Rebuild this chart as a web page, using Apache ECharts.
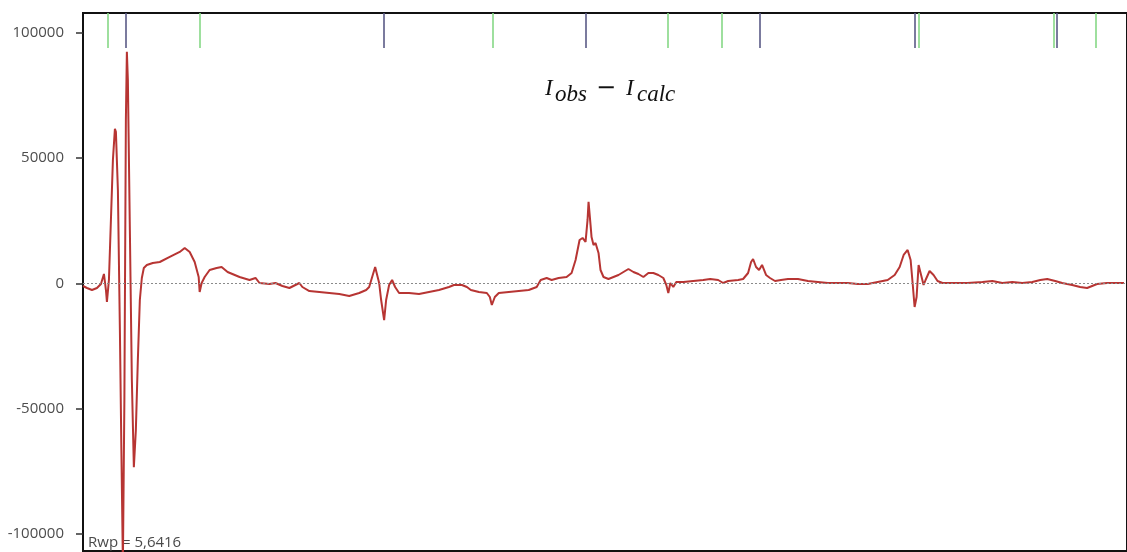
<!DOCTYPE html>
<html>
<head>
<meta charset="utf-8">
<script src="https://cdn.jsdelivr.net/npm/echarts@6/dist/echarts.min.js"></script>
<style>
  html, body { margin: 0; padding: 0; background: #fff; }
  #chart { width: 1127px; height: 552px; }
</style>
</head>
<body>
<div id="chart"></div>
<script>
// Difference curve: position along the pattern and residual counts (Iobs - Icalc)
const positions = [
  0, 4, 9, 14, 18, 21, 23, 24, 26, 28, 30, 32, 33, 35, 37, 38.5, 40, 41.5, 43, 44,
  45, 47, 49, 51, 53, 55, 57, 59, 61, 64, 70, 77, 87, 97, 102, 107, 112, 116, 117, 119,
  122, 127, 134, 139, 145, 157, 167, 173, 177, 187, 193, 200, 207, 217, 220, 227, 237, 247, 257, 267,
  277, 284, 287, 290, 293, 295, 297, 299, 302, 304, 307, 310, 313, 317, 327, 337, 347, 357, 367, 372,
  380, 385, 389, 397, 405, 408, 410, 413, 417, 427, 437, 447, 455, 459, 465, 470, 477, 485, 490, 494,
  498, 501, 504, 506, 507, 509, 510, 512, 514, 517, 519, 522, 527, 532, 537, 542, 547, 552, 557, 562,
  567, 572, 577, 582, 585, 587, 589, 592, 595, 602, 612, 622, 629, 637, 642, 647, 657, 662, 667, 670,
  672, 675, 678, 681, 685, 689, 694, 700, 707, 717, 727, 737, 747, 757, 767, 777, 787, 797, 807, 814,
  819, 823, 827, 830, 832, 834, 836, 838, 841, 843, 845, 849, 853, 857, 862, 872, 887, 902, 912, 922,
  932, 942, 952, 960, 967, 975, 982, 992, 1000, 1007, 1012, 1017, 1027, 1037, 1044
];
const diffCounts = [
  -1100, -1900, -2700, -1900, -300, 3700, -2700, -7500, 1300, 25300, 49300, 61700, 60500, 37300, -18700, -66700, -112000, -46700, 65300, 92500,
  81300, 21300, -38700, -73500, -58700, -30700, -6700, 2100, 6100, 7300, 8100, 8500, 10500, 12500, 14100, 12500, 8500, 2500, -3500, 100,
  2500, 5300, 6100, 6500, 4500, 2500, 1300, 2100, 100, -300, 100, -1100, -1900, 100, -1500, -3100, -3500, -3900, -4300, -5100,
  -3900, -2700, -1500, 2500, 6500, 6100, 100, -6700, -14700, -6700, -700, 1300, -1500, -3900, -3900, -4300, -3500, -2700, -1500, -700,
  -700, -1500, -2700, -3500, -3900, -5500, -8700, -5500, -3900, -3500, -3100, -2700, -1500, 1300, 2100, 1300, 2100, 2500, 4100, 9300,
  17300, 18100, 16500, 25300, 32500, 23300, 18500, 15300, 16100, 12100, 5300, 2500, 1700, 2500, 3300, 4500, 5700, 4500, 3700, 2500,
  4100, 4100, 3300, 2100, -700, -3900, 100, -1500, 500, 500, 900, 1300, 1700, 1300, 100, 900, 1300, 1700, 4100, 8500,
  9700, 6500, 5300, 7300, 3300, 2100, 900, 1300, 1700, 1700, 900, 500, 100, 100, 100, -300, -300, 500, 1300, 3300,
  6500, 11300, 13300, 9300, 100, -9500, -5500, 7300, 2500, -700, 1300, 4900, 3300, 900, 100, 100, 100, 500, 900, 100,
  500, 100, 500, 1300, 1700, 900, 100, -700, -1500, -1900, -1100, -300, 100, 100, 100
];

// Reflection positions of the two phases (tick marks along the top)
const phaseGreenPeaks = [24.5, 117.5, 410.5, 586.5, 640.5, 838.5, 974, 1016];
const phaseBluePeaks = [42.5, 302, 504.5, 678.5, 834.5, 977];

const yTickValues = [-100000, -50000, 0, 50000, 100000];
const rwpLabel = 'Rwp = 5,6416';

const chart = echarts.init(document.getElementById('chart'), null, { renderer: 'canvas' });

const curve = positions.map((p, i) => [p, diffCounts[i]]);
const tickTop = 108000;
const tickBottom = 94000;
const peakLines = [];
phaseGreenPeaks.forEach(p => peakLines.push([
  { coord: [p, tickTop], lineStyle: { color: '#86d886', width: 1.6, type: 'solid' } },
  { coord: [p, tickBottom] }
]));
phaseBluePeaks.forEach(p => peakLines.push([
  { coord: [p, tickTop], lineStyle: { color: '#5a5a86', width: 1.6, type: 'solid' } },
  { coord: [p, tickBottom] }
]));
peakLines.push([
  { coord: [0, 0], lineStyle: { color: '#8a8a8a', width: 1, type: [2, 2] } },
  { coord: [1047, 0] }
]);

const italicSerif = '"Liberation Serif", "DejaVu Serif", serif';

chart.setOption({
  animation: false,
  backgroundColor: '#ffffff',
  grid: {
    left: 83, right: -3, top: 13, bottom: 1,
    show: true, borderColor: '#111', borderWidth: 2, backgroundColor: 'transparent'
  },
  xAxis: {
    type: 'value', min: 0, max: 1047,
    axisLine: { show: false }, axisTick: { show: false },
    axisLabel: { show: false }, splitLine: { show: false }
  },
  yAxis: {
    type: 'value', min: -107000, max: 108000,
    axisLine: { show: false },
    axisTick: { show: true, length: 7, customValues: yTickValues, lineStyle: { color: '#333', width: 1.5 } },
    axisLabel: {
      customValues: yTickValues, margin: 19, color: '#4d4d4d',
      fontFamily: '"Open Sans", sans-serif', fontSize: 15,
      formatter: v => String(v)
    },
    splitLine: { show: false }
  },
  series: [{
    type: 'line',
    data: curve,
    showSymbol: false,
    symbol: 'none',
    clip: true,
    lineStyle: { color: '#b73533', width: 2 },
    z: 3,
    markLine: {
      silent: true,
      symbol: ['none', 'none'],
      label: { show: false },
      animation: false,
      data: peakLines
    }
  }],
  graphic: [
    { type: 'text', left: 88, top: 535, z: 1,
      style: { text: rwpLabel, fill: '#4a4a4a', font: '15px "Open Sans", sans-serif' } },
    { type: 'text', x: 545, y: 89, style: { text: 'I', fill: '#111', font: 'italic 23px ' + italicSerif, verticalAlign: 'middle' } },
    { type: 'text', x: 555, y: 95, style: { text: 'obs', fill: '#111', font: 'italic 23px ' + italicSerif, verticalAlign: 'middle' } },
    { type: 'text', x: 596, y: 89, style: { text: '\u2212', fill: '#111', font: '24px "DejaVu Sans", sans-serif', verticalAlign: 'middle' } },
    { type: 'text', x: 626, y: 89, style: { text: 'I', fill: '#111', font: 'italic 23px ' + italicSerif, verticalAlign: 'middle' } },
    { type: 'text', x: 637, y: 95, style: { text: 'calc', fill: '#111', font: 'italic 23px ' + italicSerif, verticalAlign: 'middle' } }
  ]
});
</script>
</body>
</html>
